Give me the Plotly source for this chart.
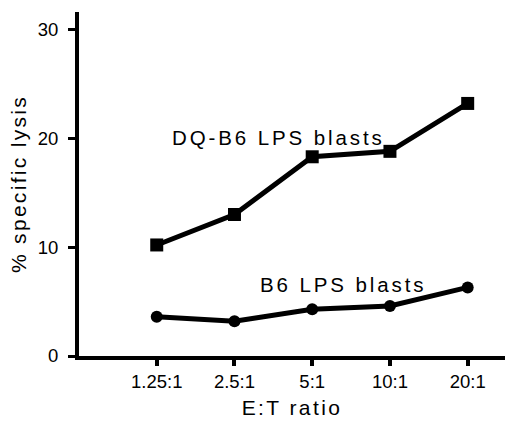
import plotly.graph_objects as go

ratios = ["1.25:1", "2.5:1", "5:1", "10:1", "20:1"]
dq_b6_lysis = [10.2, 13.0, 18.3, 18.8, 23.2]
b6_lysis = [3.6, 3.2, 4.3, 4.6, 6.3]
y_ticks = [0, 10, 20, 30]

FONT = "Liberation Sans, Arial, Helvetica, sans-serif"

def spaced(text, px):
    return f'<span style="letter-spacing:{px}px">{text}</span>'

fig = go.Figure()
fig.add_trace(go.Scatter(
    x=ratios, y=dq_b6_lysis, mode="lines+markers",
    line=dict(color="black", width=5),
    marker=dict(symbol="square", size=13, color="black"),
    showlegend=False, cliponaxis=False))
fig.add_trace(go.Scatter(
    x=ratios, y=b6_lysis, mode="lines+markers",
    line=dict(color="black", width=5),
    marker=dict(symbol="circle", size=12, color="black"),
    showlegend=False, cliponaxis=False))

fig.add_annotation(x=1.56, y=20.1, xref="x", yref="y",
                   text=spaced("DQ-B6 LPS blasts", 2.9), showarrow=False,
                   font=dict(family=FONT, size=20.5, color="black"),
                   xanchor="center", yanchor="middle")
fig.add_annotation(x=2.39, y=6.6, xref="x", yref="y",
                   text=spaced("B6 LPS blasts", 2.9), showarrow=False,
                   font=dict(family=FONT, size=20.5, color="black"),
                   xanchor="center", yanchor="middle")

fig.update_layout(
    width=511, height=423,
    margin=dict(l=79, r=6, t=12, b=61),
    paper_bgcolor="white", plot_bgcolor="white",
    font=dict(family=FONT, color="black"),
    xaxis=dict(
        type="category", range=[-1.0, 4.48],
        tickmode="array", tickvals=ratios, ticktext=ratios,
        showline=True, linecolor="black", linewidth=4,
        ticks="outside", ticklen=6, tickwidth=4, tickcolor="black",
        showgrid=False, zeroline=False,
        tickfont=dict(family=FONT, size=18.5, color="black"),
        title=dict(text=spaced("E:T ratio", 2.4),
                   font=dict(family=FONT, size=21, color="black"),
                   standoff=10),
    ),
    yaxis=dict(
        range=[0, 31.6],
        tickmode="array", tickvals=y_ticks, ticktext=[str(v) for v in y_ticks],
        showline=True, linecolor="black", linewidth=4,
        ticks="outside", ticklen=7, tickwidth=3, tickcolor="black",
        ticklabelstandoff=6,
        showgrid=False, zeroline=False,
        tickfont=dict(family=FONT, size=18.5, color="black"),
        title=dict(text=spaced("% specific lysis", 2.3),
                   font=dict(family=FONT, size=21, color="black"),
                   standoff=6),
    ),
)

fig.write_html("out.html")
